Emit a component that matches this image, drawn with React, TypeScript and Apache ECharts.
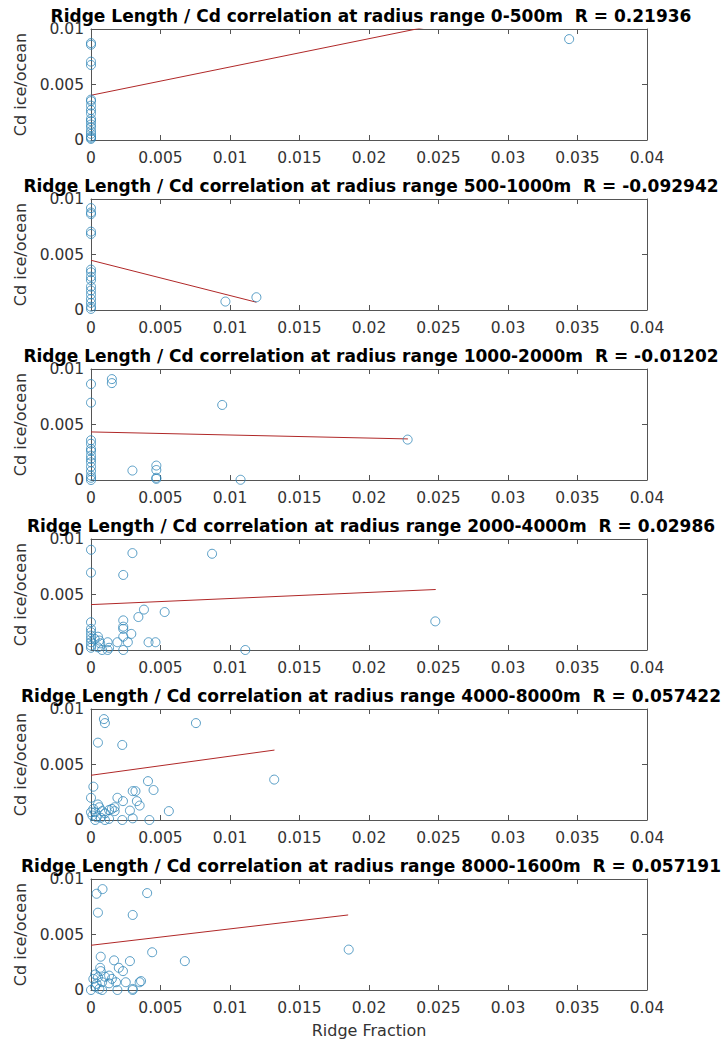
import React, { useEffect, useRef } from "react";
import * as echarts from "echarts";

const titles = [
  "Ridge Length / Cd correlation at radius range 0-500m  R = 0.21936",
  "Ridge Length / Cd correlation at radius range 500-1000m  R = -0.092942",
  "Ridge Length / Cd correlation at radius range 1000-2000m  R = -0.01202",
  "Ridge Length / Cd correlation at radius range 2000-4000m  R = 0.02986",
  "Ridge Length / Cd correlation at radius range 4000-8000m  R = 0.057422",
  "Ridge Length / Cd correlation at radius range 8000-1600m  R = 0.057191",
];

const xTickValues = [0, 0.005, 0.01, 0.015, 0.02, 0.025, 0.03, 0.035, 0.04];
const yTickValues = [0, 0.005, 0.01];

const p1X = [0, 0, 0, 0, 0, 0, 0, 0, 0, 0, 0, 0, 0, 0, 0, 0, 0, 0, 0.0344];
const p1Y = [0.00873, 0.00858, 0.00706, 0.00676, 0.00364, 0.0035, 0.0031, 0.0027, 0.0024, 0.0019, 0.0017, 0.0014, 0.00115, 0.0008, 0.00055, 0.0003, 0.0002, 0.0001, 0.00909];

const p2X = [0, 0, 0, 0, 0, 0, 0, 0, 0, 0, 0, 0, 0, 0, 0, 0, 0.00967, 0.0119];
const p2Y = [0.00918, 0.00879, 0.00864, 0.00706, 0.00685, 0.00364, 0.0034, 0.003, 0.0027, 0.0021, 0.00176, 0.0014, 0.001, 0.00064, 0.0003, 0.0001, 0.00076, 0.00115];

const p3X = [0, 0, 0, 0, 0, 0, 0, 0, 0, 0, 0, 0, 0, 0, 0.0015, 0.0015, 0.00944, 0.00298, 0.0047, 0.0047, 0.0047, 0.0047, 0.01076, 0.02278];
const p3Y = [0.00864, 0.00697, 0.00358, 0.00327, 0.0028, 0.0026, 0.0022, 0.0019, 0.0016, 0.0012, 0.0008, 0.0004, 0.0002, 0, 0.00909, 0.00873, 0.00676, 0.00085, 0.0013, 0.0009, 0.0002, 0.0001, 0.00002, 0.00364];

const p4X = [0, 0, 0, 0, 0, 0, 0, 0, 0, 0, 0.0005, 0.0006, 0.00066, 0.0005, 0.0012, 0.0012, 0.0013, 0.00026, 0.0008, 0.00232, 0.00232, 0.00232, 0.00232, 0.00232, 0.00232, 0.00298, 0.0029, 0.00265, 0.0019, 0.00341, 0.00381, 0.00414, 0.00464, 0.0053, 0.00871, 0.0111, 0.02477];
const p4Y = [0.00903, 0.00697, 0.0025, 0.0019, 0.0016, 0.0013, 0.001, 0.0007, 0.0004, 0.0002, 0.0012, 0.00085, 0.0006, 0.00024, 0.0007, 0, 0.0002, 0.001, 0, 0.00676, 0.00267, 0.0021, 0.0019, 0.0012, 0, 0.00873, 0.00145, 0.0007, 0.0007, 0.00297, 0.00364, 0.0007, 0.0007, 0.00342, 0.00867, 0, 0.00258];

const p5X = [0.00093, 0.001, 0.0005, 0.00225, 0.00755, 0.00017, 0, 0.0019, 0.0023, 0.003, 0.0032, 0.0041, 0.0045, 0.0033, 0.0035, 0.0028, 0.0056, 0.01318, 0.003, 0.0042, 0.00225, 0.001, 0.00017, 0.0003, 0.0005, 0.0006, 0.0008, 0.001, 0.0013, 0.0015, 0.0017, 0.0001, 0.0004, 0.0007, 0.0013, 0.0003, 0, 0.0017];
const p5Y = [0.00909, 0.00873, 0.00697, 0.00676, 0.00873, 0.003, 0.002, 0.002, 0.0017, 0.0026, 0.0026, 0.0035, 0.0027, 0.0017, 0.0013, 0.00085, 0.0008, 0.00364, 0.00015, 0, 0, 0, 0.001, 0.0007, 0.0014, 0.00115, 0.0008, 0.0006, 0.0009, 0.001, 0.0008, 0.0004, 0.00025, 0.0002, 0.0001, 0, 0.0007, 0.00115];

const p6X = [0.00083, 0.0004, 0.0005, 0.00404, 0.003, 0.0007, 0.00166, 0.0028, 0.0044, 0.00675, 0.01854, 0.002, 0.0023, 0.00066, 0.0007, 0.0003, 0.00017, 0.0005, 0.001, 0.0013, 0.0015, 0.0008, 0.0018, 0.0025, 0.0035, 0.0036, 0, 0.0003, 0.0006, 0.0008, 0.0019, 0.003, 0.003, 0.0013, 0.0004];
const p6Y = [0.00909, 0.00867, 0.00697, 0.00873, 0.00676, 0.003, 0.00267, 0.0026, 0.0034, 0.0026, 0.00364, 0.002, 0.0017, 0.002, 0.0017, 0.0014, 0.001, 0.00115, 0.0012, 0.0013, 0.001, 0.0007, 0.0007, 0.0007, 0.0007, 0.0008, 0, 0.0003, 0.0001, 0, 0, 0.0001, 0, 0.0006, 0.00055];

// Linear-fit line end points (x, y)
const fit1X = [0, 0.0344];
const fit1Y = [0.00403, 0.0128];
const fit2X = [0, 0.0119];
const fit2Y = [0.00448, 0.0007];
const fit3X = [0, 0.0228];
const fit3Y = [0.00433, 0.0037];
const fit4X = [0, 0.0248];
const fit4Y = [0.00409, 0.00545];
const fit5X = [0, 0.0132];
const fit5Y = [0.00403, 0.0063];
const fit6X = [0, 0.0185];
const fit6Y = [0.00403, 0.00676];

const panelsX = [p1X, p2X, p3X, p4X, p5X, p6X];
const panelsY = [p1Y, p2Y, p3Y, p4Y, p5Y, p6Y];
const fitsX = [fit1X, fit2X, fit3X, fit4X, fit5X, fit6X];
const fitsY = [fit1Y, fit2Y, fit3Y, fit4Y, fit5Y, fit6Y];

const yAxisName = "Cd ice/ocean";
const xAxisName = "Ridge Fraction";

const FONT = "DejaVu Sans";
const AXIS_COLOR = "#555555";
const LABEL_COLOR = "#333333";
const MARKER_COLOR = "#2f86b8";
const FIT_COLOR = "#b02828";

function fmt(v: number): string {
  return String(+v.toFixed(4));
}

export default function App() {
  const ref = useRef<HTMLDivElement>(null);
  useEffect(() => {
    document.body.style.margin = "0";
    if (!ref.current) return;
    const chart = echarts.init(ref.current, null, { renderer: "svg" });

    const GRID_LEFT = 91;
    const GRID_W = 556;
    const GRID_TOP = 29;
    const GRID_H = 111;
    const STEP = 170;

    const grids: any[] = [];
    const xAxes: any[] = [];
    const yAxes: any[] = [];
    const series: any[] = [];
    const graphics: any[] = [];

    const xMin = xTickValues[0];
    const xMax = xTickValues[xTickValues.length - 1];
    const xInt = xTickValues[1] - xTickValues[0];
    const yMin = yTickValues[0];
    const yMax = yTickValues[yTickValues.length - 1];
    const yInt = yTickValues[1] - yTickValues[0];

    for (let i = 0; i < 6; i++) {
      grids.push({
        left: GRID_LEFT,
        top: GRID_TOP + STEP * i,
        width: GRID_W,
        height: GRID_H,
        containLabel: false,
      });
      const common = {
        gridIndex: i,
        type: "value",
        axisLine: { show: true, onZero: false, lineStyle: { color: AXIS_COLOR, width: 1 } },
        axisTick: { show: true, inside: true, length: 5, lineStyle: { color: AXIS_COLOR } },
        splitLine: { show: false },
      };
      xAxes.push({
        ...common,
        position: "bottom",
        min: xMin,
        max: xMax,
        interval: xInt,
        axisLabel: {
          show: true,
          margin: 10,
          color: LABEL_COLOR,
          fontFamily: FONT,
          fontSize: 15.5,
          formatter: (v: number) => fmt(v),
        },
        name: i === 5 ? xAxisName : "",
        nameLocation: "middle",
        nameGap: 32,
        nameTextStyle: { color: LABEL_COLOR, fontFamily: FONT, fontSize: 16 },
      });
      xAxes.push({
        ...common,
        position: "top",
        min: xMin,
        max: xMax,
        interval: xInt,
        axisLabel: { show: false },
      });
      yAxes.push({
        ...common,
        position: "left",
        min: yMin,
        max: yMax,
        interval: yInt,
        axisLabel: {
          show: true,
          margin: 7,
          color: LABEL_COLOR,
          fontFamily: FONT,
          fontSize: 15.5,
          formatter: (v: number) => fmt(v),
        },
        name: yAxisName,
        nameLocation: "middle",
        nameGap: 60,
        nameTextStyle: { color: LABEL_COLOR, fontFamily: FONT, fontSize: 16 },
      });
      yAxes.push({
        ...common,
        position: "right",
        min: yMin,
        max: yMax,
        interval: yInt,
        axisLabel: { show: false },
      });

      const pts = panelsX[i].map((x, k) => [x, panelsY[i][k]]);
      series.push({
        type: "scatter",
        xAxisIndex: 2 * i,
        yAxisIndex: 2 * i,
        data: pts,
        symbol: "circle",
        symbolSize: 9,
        itemStyle: { color: "rgba(0,0,0,0)", borderColor: MARKER_COLOR, borderWidth: 1 },
        z: 3,
      });
      const fit = fitsX[i].map((x, k) => [x, fitsY[i][k]]);
      series.push({
        type: "line",
        xAxisIndex: 2 * i,
        yAxisIndex: 2 * i,
        data: fit,
        symbol: "none",
        clip: true,
        lineStyle: { color: FIT_COLOR, width: 1 },
        z: 2,
      });

      graphics.push({
        type: "text",
        x: GRID_LEFT + GRID_W / 2 + 2,
        y: 16 + STEP * i,
        style: {
          text: titles[i],
          fill: "#000000",
          font: `bold 17px "${FONT}"`,
          textAlign: "center",
          textVerticalAlign: "middle",
        },
        z: 10,
      });
    }

    chart.setOption({
      animation: false,
      backgroundColor: "#ffffff",
      grid: grids,
      xAxis: xAxes,
      yAxis: yAxes,
      series,
      graphic: graphics,
    });
    return () => chart.dispose();
  }, []);
  return <div ref={ref} style={{ width: 721, height: 1042 }} />;
}
